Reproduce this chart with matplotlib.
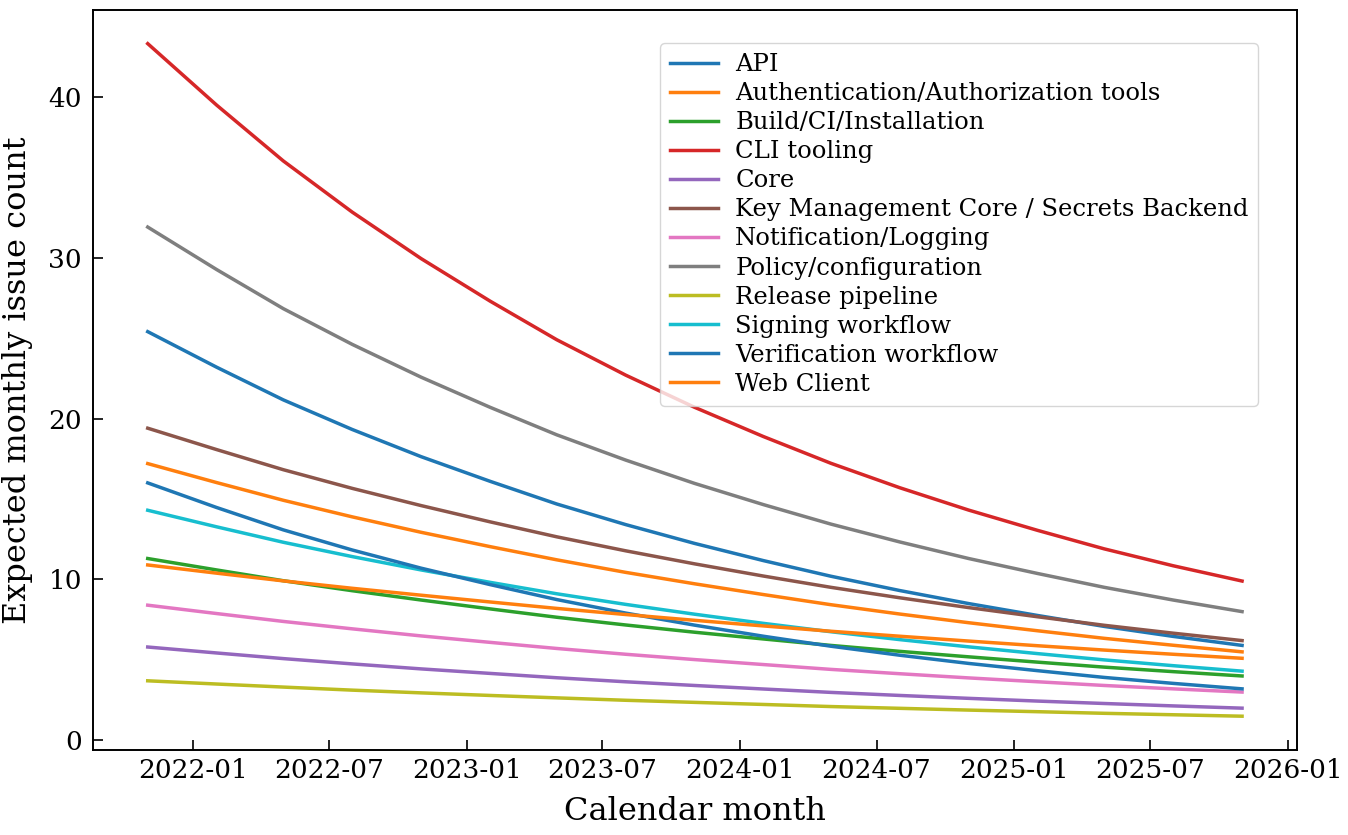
from matplotlib import pyplot as plt
import matplotlib.dates as mdates
import pandas as pd

months = ['2021-11', '2022-02', '2022-05', '2022-08', '2022-11', '2023-02', '2023-05', '2023-08',
          '2023-11', '2024-02', '2024-05', '2024-08', '2024-11', '2025-02', '2025-05', '2025-08',
          '2025-11']

api = [25.4, 23.19, 21.16, 19.32, 17.63, 16.10, 14.69, 13.41, 12.24, 11.17, 10.20, 9.31, 8.50,
       7.76, 7.08, 6.46, 5.90]
auth_tools = [17.2, 16.02, 14.92, 13.89, 12.93, 12.04, 11.22, 10.44, 9.73, 9.06, 8.43, 7.85, 7.31,
              6.81, 6.34, 5.91, 5.50]
build_ci = [11.3, 10.59, 9.92, 9.30, 8.72, 8.17, 7.65, 7.17, 6.72, 6.30, 5.90, 5.53, 5.19, 4.86,
            4.55, 4.27, 4.00]
cli_tooling = [43.3, 39.48, 36.01, 32.83, 29.94, 27.30, 24.90, 22.70, 20.70, 18.88, 17.22, 15.70,
               14.31, 13.05, 11.90, 10.85, 9.90]
core = [5.8, 5.43, 5.08, 4.75, 4.44, 4.16, 3.89, 3.64, 3.41, 3.19, 2.98, 2.79, 2.61, 2.44, 2.29,
        2.14, 2.00]
key_mgmt = [19.4, 18.07, 16.82, 15.66, 14.59, 13.58, 12.65, 11.78, 10.97, 10.21, 9.51, 8.86, 8.25,
            7.68, 7.15, 6.66, 6.20]
notification = [8.4, 7.88, 7.39, 6.93, 6.49, 6.09, 5.71, 5.35, 5.02, 4.71, 4.41, 4.14, 3.88, 3.64,
                3.41, 3.20, 3.00]
policy = [31.9, 29.26, 26.83, 24.61, 22.57, 20.70, 18.99, 17.42, 15.97, 14.65, 13.44, 12.33, 11.30,
          10.37, 9.51, 8.72, 8.00]
release = [3.7, 3.50, 3.31, 3.12, 2.95, 2.79, 2.64, 2.49, 2.36, 2.23, 2.10, 1.99, 1.88, 1.78, 1.68,
           1.59, 1.50]
signing = [14.3, 13.27, 12.31, 11.42, 10.59, 9.82, 9.11, 8.45, 7.84, 7.27, 6.75, 6.26, 5.81, 5.39,
           5.00, 4.64, 4.30]
verification = [16.0, 14.47, 13.08, 11.83, 10.70, 9.68, 8.75, 7.91, 7.16, 6.47, 5.85, 5.29, 4.78,
                4.33, 3.91, 3.54, 3.20]
web_client = [10.9, 10.39, 9.91, 9.45, 9.02, 8.60, 8.20, 7.82, 7.46, 7.11, 6.78, 6.47, 6.17, 5.88,
              5.61, 5.35, 5.10]

labels = ['API', 'Authentication/Authorization tools', 'Build/CI/Installation', 'CLI tooling',
          'Core', 'Key Management Core / Secrets Backend', 'Notification/Logging',
          'Policy/configuration', 'Release pipeline', 'Signing workflow',
          'Verification workflow', 'Web Client']
series = [api, auth_tools, build_ci, cli_tooling, core, key_mgmt, notification, policy,
          release, signing, verification, web_client]

plt.rcParams['font.family'] = 'DejaVu Serif'
plt.rcParams['xtick.labelsize'] = 19
plt.rcParams['ytick.labelsize'] = 19
plt.rcParams['axes.labelsize'] = 23
plt.rcParams['legend.fontsize'] = 17.5
plt.rcParams['lines.linewidth'] = 2.5
plt.rcParams['xtick.direction'] = 'in'
plt.rcParams['ytick.direction'] = 'in'
plt.rcParams['xtick.major.size'] = 7
plt.rcParams['ytick.major.size'] = 7
plt.rcParams['xtick.major.width'] = 1.2
plt.rcParams['ytick.major.width'] = 1.2
plt.rcParams['axes.linewidth'] = 1.4

fig = plt.figure(figsize=(13.48, 8.35), dpi=100)
ax = fig.add_axes([0.069, 0.102, 0.893, 0.886])

dates = pd.to_datetime(months)
colors = plt.rcParams['axes.prop_cycle'].by_key()['color']
for i, (lab, vals) in enumerate(zip(labels, series)):
    ax.plot(dates, vals, color=colors[i % 10], label=lab)

ax.xaxis.set_major_locator(mdates.MonthLocator(bymonth=[1, 7]))
ax.xaxis.set_major_formatter(mdates.DateFormatter('%Y-%m'))
ax.tick_params(axis='y', pad=8)
ax.tick_params(axis='x', pad=6)

ax.set_xlabel('Calendar month', labelpad=9)
ax.set_ylabel('Expected monthly issue count')
ax.yaxis.set_label_coords(-0.050, 0.5)

ax.legend(loc='upper right', bbox_to_anchor=(0.968, 0.955), borderaxespad=0,
          labelspacing=0.25, handlelength=2.0, handletextpad=0.7)

plt.savefig('out.png', dpi=100)
